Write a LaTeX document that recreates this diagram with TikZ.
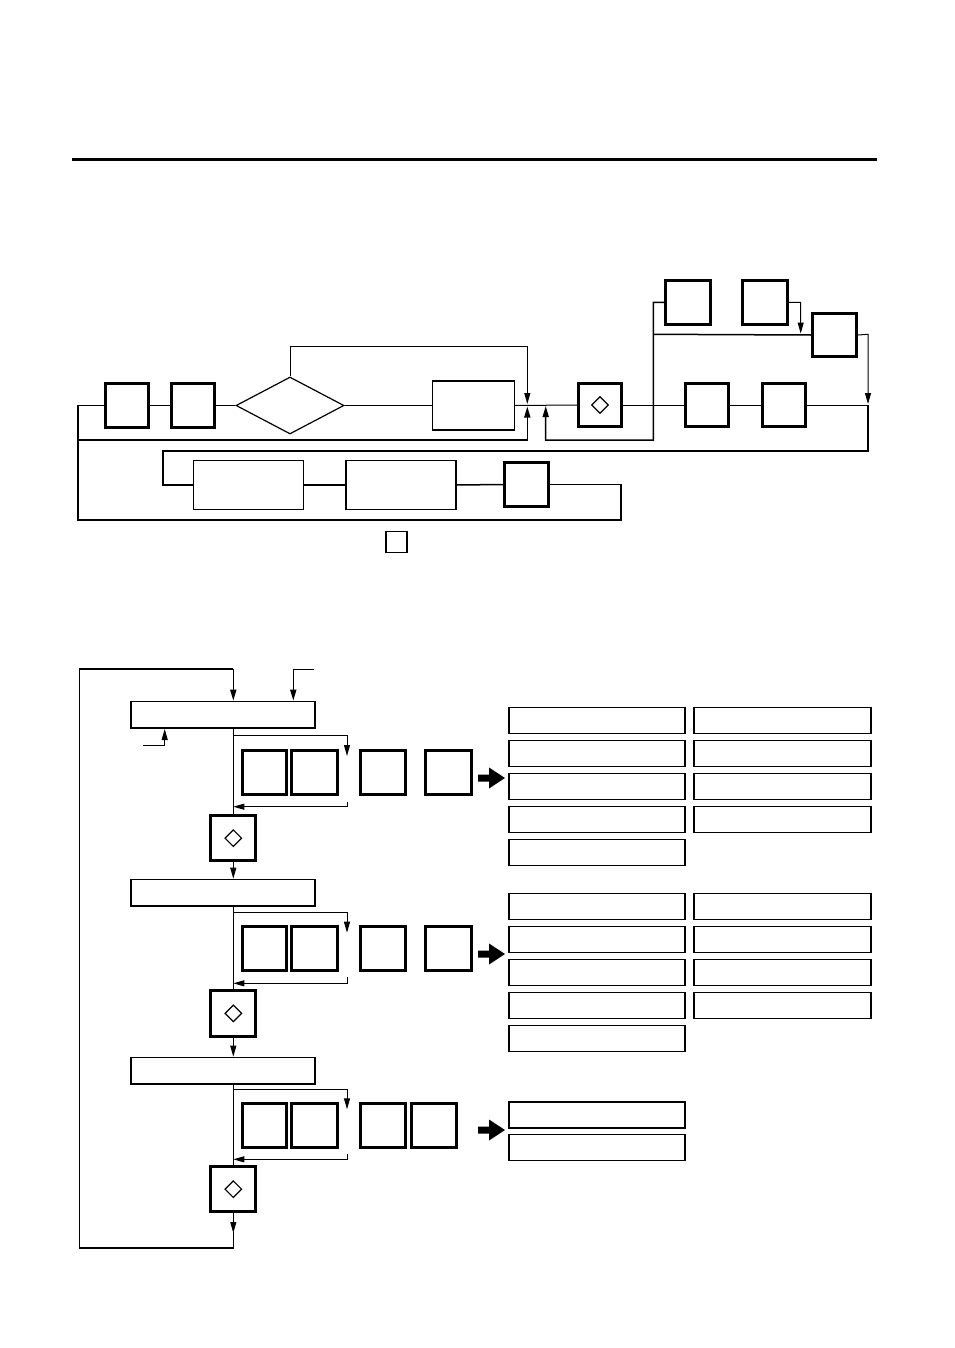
\documentclass[tikz,border=0pt]{standalone}
\usetikzlibrary{shapes.geometric,arrows.meta,calc}
\begin{document}
\begin{tikzpicture}[x=1pt,y=-1pt,
  thickbox/.style={draw,line width=3pt,inner sep=0pt},
  thinbox/.style={draw,line width=1.2pt,inner sep=0pt},
  medbox/.style={draw,line width=1.7pt,inner sep=0pt},
  sq/.style={thickbox,minimum width=44pt,minimum height=44pt},
  kbox/.style={thickbox,minimum width=45pt,minimum height=44pt},
  hbox/.style={medbox,minimum width=184pt,minimum height=26.6pt},
  rbox/.style={medbox,minimum width=176pt,minimum height=26pt},
  dmark/.style={draw,diamond,line width=1.2pt,inner sep=0pt,minimum width=17pt,minimum height=17pt},
  ln/.style={line width=1pt},
  lnm/.style={line width=1.5pt},
  arr/.style={-{Triangle[length=11pt,width=6pt]}}
]
\useasboundingbox (0,0) rectangle (954,1348);
% top rule
\draw[line width=3pt] (72,160) -- (877,160);

% ---------- top diagram ----------
\node[sq,minimum width=43pt] (a1) at (127,405.5) {};
\node[sq,minimum width=43pt] (a2) at (193,405.5) {};
\node[draw,diamond,line width=1.2pt,inner sep=0pt,minimum width=108pt,minimum height=57pt] (dia) at (290,405.5) {};
\node[thinbox,minimum width=82pt,minimum height=49pt] (b) at (473.5,405.5) {};
\node[sq,minimum width=43pt,minimum height=43pt] (e) at (600,405) {};
\node[dmark] at (e) {};
\node[sq,minimum width=43pt,minimum height=43pt] (f1) at (707,405) {};
\node[sq,minimum width=43pt,minimum height=43pt] (f2) at (783.5,405) {};
\node[sq,minimum width=45pt] (g1) at (688,302.5) {};
\node[sq,minimum width=45pt] (g2) at (764.5,302.5) {};
\node[sq,minimum height=43pt] (d) at (834.5,335) {};
\node[thinbox,minimum width=110pt,minimum height=49pt] (c1) at (248.7,485) {};
\node[thinbox,minimum width=110pt,minimum height=49pt] (c2) at (401,485) {};
\node[sq] (c3) at (526.5,484.5) {};
\node[thinbox,minimum width=21pt,minimum height=21pt] (small) at (396.5,542) {};

\coordinate (j2) at (868,405);

% main line
\draw[ln] (a1.east) -- (a2.west);
\draw[ln] (a2.east) -- (dia.west);
\draw[ln] (dia.east) -- (b.west);
\draw[ln] (b.east) -- (e.west);
\draw[ln] (e.east) -- (f1.west);
\draw[ln] (f1.east) -- (f2.west);
\draw[ln] (f2.east) -- (j2);
% bypass over the decision
\draw[ln,arr] (dia.north) -- (290,346.3) -- (527.3,346.3) -- (527.3,404);
% lower return to the junction
\draw[lnm,arr] (77.7,440) -- (527.3,440) -- (527.3,406.5);
% return from the upper branch
\draw[lnm,arr] (g1.west) -- (653.3,302.3) -- (653.3,440) -- (545.7,440) -- (545.7,406);
\draw[lnm] (653.3,334.3) -- (d.west);
\draw[ln,arr] (g2.east) -- (800.7,302.3) -- (800.7,333.5);
\draw[ln,arr] (d.east) -- (868,334.3) -- (868,404);
% lower loop
\draw[line width=1.7pt] (j2) -- (868,451) -- (162.7,451) -- (162.7,485) -- (c1.west);
\draw[lnm] (c1.east) -- (c2.west);
\draw[lnm] (c2.east) -- (c3.west);
\draw[line width=1.7pt] (c3.east) -- (621,484.5) -- (621,520) -- (77.7,520) -- (77.7,405.5) -- (a1.west);

% ---------- bottom diagram ----------
\foreach \s/\hy/\by/\ty/\ky/\rs/\ry/\ly in
 {1/714.85/735.7/756/772/801.7/806.7/838.15,
  2/892.85/912/932.7/948/977/983.3/1013.35,
  3/1070.85/1089/1109.3/1125/1154.3/1159.3/1189.15}{
  \node[hbox] (H\s) at (223.3,\hy) {};
  \node[kbox,minimum width=44pt] (K\s a) at (264.2,\ky) {};
  \node[kbox,minimum width=45.7pt] (K\s b) at (314.35,\ky) {};
  \node[kbox,minimum width=45.3pt] (K\s c) at (383.15,\ky) {};
  \node[thickbox,minimum width=45pt,minimum height=45.3pt] (L\s) at (233.3,\ly) {};
  \node[dmark] at (L\s) {};
  \coordinate (B\s) at (233.3,\by);
  \coordinate (R\s) at (347,\ry);
  \coordinate (T\s) at (347,\ty);
  \coordinate (RS\s) at (347,\rs);
  \draw[ln] (L\s.north |- H\s.south) -- (L\s.north);
  \draw[ln,arr] (B\s) -- (B\s -| R\s) -- (T\s);
  \draw[ln,arr] (RS\s) -- (R\s) -- (B\s |- R\s);
}
\node[kbox,minimum width=45.7pt] (K1d) at (448.35,772) {};
\node[kbox,minimum width=45.7pt] (K2d) at (448.35,948) {};
\node[kbox,minimum width=45.3pt] (K3d) at (433.65,1125) {};

% links between sections
\draw[ln,arr] (L1.south) -- (L1.south |- H2.north);
\draw[ln,arr] (L2.south) -- (L2.south |- H3.north);
\coordinate (la) at (233.3,1233);
\coordinate (lb) at (233.3,1248);
\coordinate (lt) at (233.3,669);
\draw[ln,arr] (L3.south) -- (la);
\draw[lnm] (233.3,1232) -- (lb) -- (79.3,1248) -- (79.3,669) -- (lt);
\draw[lnm,arr] (lt) -- (lt |- H1.north);
\coordinate (in2a) at (313.7,669.7);
\coordinate (in2) at (293.3,669.7);
\draw[lnm,arr] (in2a) -- (in2) -- (in2 |- H1.north);
\coordinate (in3a) at (143.3,745.7);
\coordinate (in3) at (164.7,745.7);
\draw[ln,arr] (in3a) -- (in3) -- (in3 |- H1.south);

% big arrows
\foreach \y in {778,954,1130}{
  \fill (478,\y-3.5) -- (489,\y-3.5) -- (489,\y-10.5) -- (505,\y) -- (489,\y+10.5) -- (489,\y+3.5) -- (478,\y+3.5) -- cycle;
}

% right-hand boxes
\foreach \i in {0,...,4}{
  \node[rbox] (P\i) at (597.15,720.5+33*\i) {};
  \node[rbox] (Q\i) at (597.15,906.5+33*\i) {};
}
\foreach \i in {0,...,3}{
  \node[rbox,minimum width=177pt] (PP\i) at (782.35,720.5+33*\i) {};
  \node[rbox,minimum width=177pt] (QQ\i) at (782.35,906.5+33*\i) {};
}
\node[rbox] (S0) at (597.15,1114.7) {};
\node[rbox] (S1) at (597.15,1147.4) {};
\end{tikzpicture}
\end{document}
